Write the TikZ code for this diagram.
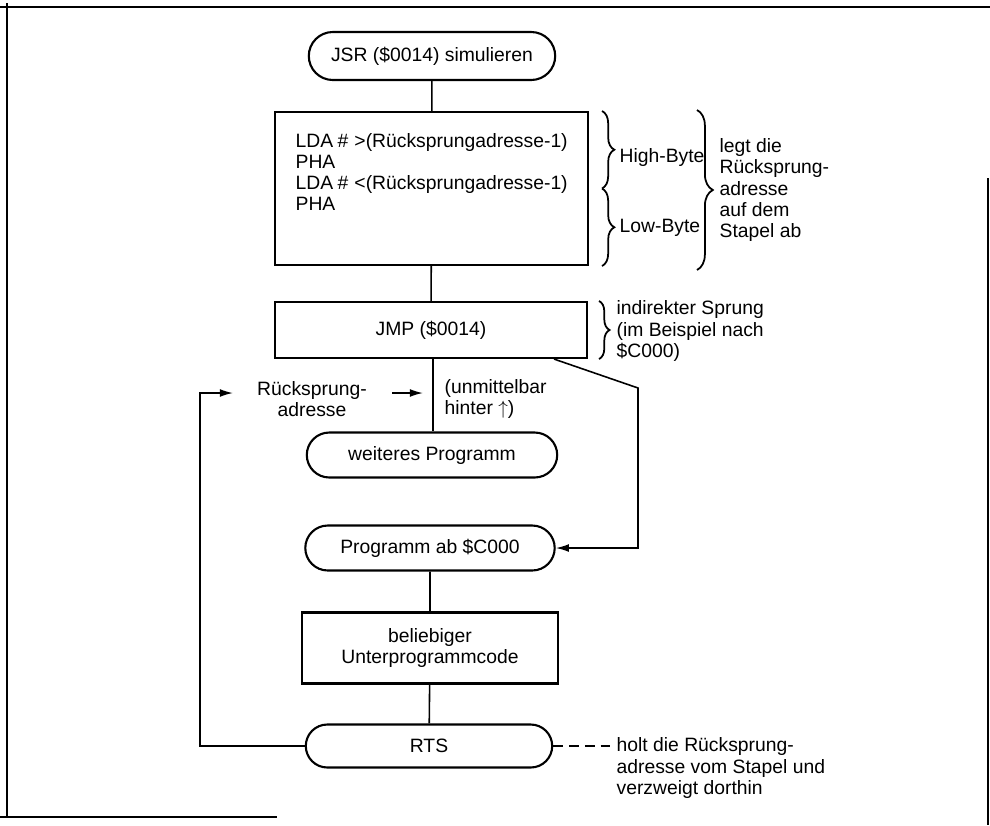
\documentclass[tikz,border=0pt]{standalone}
\usepackage{fontspec}
\setmainfont{Liberation Sans}
\usepackage{tikz}
\usetikzlibrary{positioning,arrows.meta,calc,shapes.misc,decorations.pathreplacing}

\begin{document}
\begin{tikzpicture}[
    x=0.02cm, y=-0.02cm,
    font=\fontsize{11}{12}\selectfont,
    box/.style={draw, line width=1.2pt, inner sep=3pt, align=center},
    term/.style={box, rounded rectangle, minimum width=5.14cm, minimum height=0.9cm},
    txt/.style={align=left, inner sep=3pt},
    flow/.style={line width=0.9pt},
    arr/.style={flow, -{Latex[length=7.5pt,width=4.5pt]}},
    brc/.style={decorate, line width=1pt, decoration={brace, amplitude=#1}}]

  \useasboundingbox (0,0) rectangle (990,825);

  % ---- frame ------------------------------------------------------------
  \draw[line width=0.6pt] (0,7) -- (990,7);
  \draw[line width=0.6pt] (7,3) -- (7,817);
  \draw[line width=0.6pt] (0,817) -- (277,817);
  \draw[line width=0.6pt] (988,178) -- (988,825);

  % ---- main column ------------------------------------------------------
  \node[term, minimum height=0.96cm] (jsr)  at (432, 56)  {JSR (\$0014) simulieren};
  \node[box, minimum width=6.26cm, minimum height=3.06cm] (push) at (431.5, 188.5) {};
  \node[txt, anchor=west]            (pushtxt) at (290, 172)
      {LDA\hspace{2.5pt}\#\hspace{3.5pt}>(Rücksprungadresse-1)\\ PHA\\
       LDA\hspace{2.5pt}\#\hspace{3.5pt}<(Rücksprungadresse-1)\\ PHA};
  \node[box, minimum width=6.24cm, minimum height=1.12cm] (jmp) at (431, 330) {JMP (\$0014)};
  \node[term, minimum width=5.22cm]  (weiter) at (432, 455) {weiteres Programm};
  \node[term, minimum width=5.2cm]   (prog)   at (430, 548) {Programm ab \$C000};
  \node[box, minimum width=5.12cm, minimum height=1.42cm] (ups) at (430, 648) {beliebiger\\ Unterprogrammcode};
  \node[term, minimum height=0.86cm] (rts)    at (429, 746) {RTS};

  \draw[flow] (jsr) -- (push);
  \draw[flow] (push) -- (jmp);
  \draw[flow] (jmp.south -| 433,0) -- (weiter.north -| 433,0);
  \draw[flow] (prog) -- (ups);
  \draw[flow] (ups) -- (rts);

  % ---- braces right of the code -----------------------------------------
  \draw[brc=7pt] ($(push.north east)+(13,0)$) -- ($(push.east)+(13,0)$);
  \draw[brc=7pt] ($(push.east)+(13,0)$) -- ($(push.south east)+(13,0)$);
  \node[txt, anchor=west] (hi) at (614, 157) {High-Byte};
  \node[txt, anchor=west] (lo) at (614, 228) {Low-Byte};
  \draw[brc=9pt] (697, 110) -- (697, 270);
  \node[txt, anchor=west] (legt) at (714, 190)
      {legt die\\ Rücksprung-\\ adresse\\ auf dem\\ Stapel ab};

  \draw[brc=6pt] ($(jmp.north east)+(11,0)$) -- ($(jmp.south east)+(11,0)$);
  \node[txt, anchor=west] (indir) at (611, 331)
      {indirekter Sprung\\ (im Beispiel nach\\ \$C000)};

  % ---- jump to the subroutine -------------------------------------------
  \coordinate (bend) at (638, 388);
  \draw[arr, line join=miter] ($(jmp.south east)+(-34,0)$) -- (bend) |- (prog.east);

  % ---- return address ---------------------------------------------------
  \node[align=center, inner sep=2pt] (radr) at (312, 399) {Rücksprung-\\ adresse};
  \node[txt, anchor=west] (hinter) at (439, 399) {(unmittelbar\\ hinter $\uparrow$)};
  \coordinate (hint) at (423, 393);
  \draw[arr] ([xshift=-0.62cm]hint) -- (hint);

  \coordinate (loop) at (200, 393);
  \coordinate (ret)  at (233, 393);
  \draw[arr] (rts.west) -| (loop) -- (ret);

  % ---- RTS note ---------------------------------------------------------
  \node[txt, anchor=west] (holt) at (611, 768)
      {holt die Rücksprung-\\ adresse vom Stapel und\\ verzweigt dorthin};
  \draw[flow, dash pattern=on 5.5pt off 3.5pt] (rts.east) -- (rts.east -| holt.west);
\end{tikzpicture}
\end{document}
